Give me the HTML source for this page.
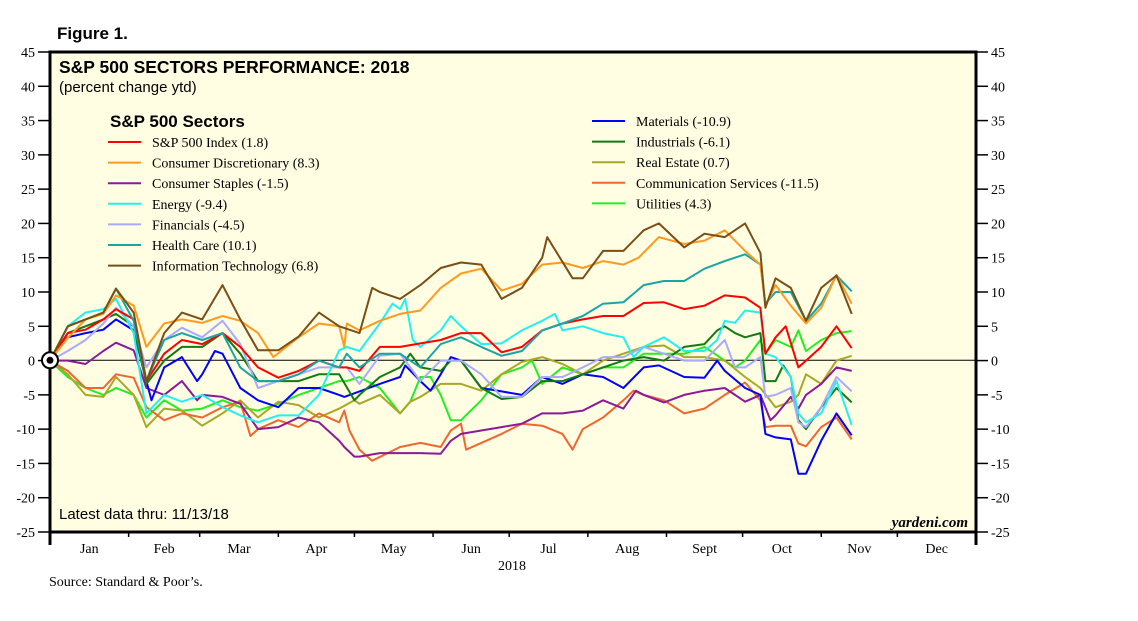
<!DOCTYPE html>
<html><head><meta charset="utf-8"><style>
html,body{margin:0;padding:0;background:#fff;width:1138px;height:621px;overflow:hidden}
svg{display:block}
.ser{font-family:"Liberation Serif",serif}
.san{font-family:"Liberation Sans",sans-serif}
</style></head><body>
<svg id="chart" width="1138" height="621" viewBox="0 0 1138 621" xmlns="http://www.w3.org/2000/svg">
<text class="san" x="57" y="39" font-size="17" font-weight="bold">Figure 1.</text>
<rect x="50" y="52" width="926" height="480" fill="#fffde2"/>
<g id="axes"></g>
<line x1="50" x2="976" y1="360.3" y2="360.3" stroke="#000" stroke-width="1"/>
<g id="series"></g>
<rect x="50" y="52" width="926" height="480" fill="none" stroke="#000" stroke-width="3"/>
<circle cx="50" cy="360.3" r="8" fill="#fff" stroke="#000" stroke-width="2"/>
<circle cx="50" cy="360.3" r="3.5" fill="#000"/>
<text class="san" x="59" y="73" font-size="17.5" font-weight="bold">S&amp;P 500 SECTORS PERFORMANCE: 2018</text>
<text class="san" x="59" y="92" font-size="15">(percent change ytd)</text>
<text class="san" x="110" y="127" font-size="17" font-weight="bold">S&amp;P 500 Sectors</text>
<g id="legend"></g>
<text class="san" x="59" y="519" font-size="15">Latest data thru: 11/13/18</text>
<text class="ser" x="968" y="527" font-size="15" font-style="italic" font-weight="bold" text-anchor="end">yardeni.com</text>
<text class="ser" x="512" y="570" font-size="14" text-anchor="middle">2018</text>
<text class="ser" x="49" y="586" font-size="14">Source: Standard &amp; Poor’s.</text>
</svg>
<script>
const yTicks=[45,40,35,30,25,20,15,10,5,0,-5,-10,-15,-20,-25];
const months=["Jan","Feb","Mar","Apr","May","Jun","Jul","Aug","Sept","Oct","Nov","Dec"];
const monthStart=[0,31,59,90,120,151,181,212,243,273,304,334,365];

const spDays=[0,7,14,21,26,33,38,45,52,60,68,75,82,90,98,106,114,117,122,130,138,146,154,162,170,178,186,194,202,210,218,226,234,242,250,258,266,274,280,282,286,290,295,298,304,310,316];
const spVals=[0,4,4.5,6,7.5,6,-3,1,3,2.4,4,2,-1,-2.5,-1.5,0,-1,-1,-1.5,2,2,2.5,3,4,4,1.2,2,4.4,5.4,6,6.5,6.5,8.4,8.5,7.5,8,9.5,9.2,7.7,1,3.4,5,-1,0,2,5,1.8];
const cdDays=[0,7,14,21,26,33,38,45,52,60,68,75,82,88,98,106,114,116,117,122,130,138,146,154,162,170,178,186,194,202,210,218,226,232,240,250,258,266,274,280,282,286,292,298,304,310,316];
const cdVals=[0,3.3,6,6.8,9.5,8,2,5.4,6,5.5,6.5,5.8,4,0.5,3.4,5.4,5,2,5.4,4.4,5.8,6.8,7.3,10.6,12.7,13.4,10.2,11.2,14,14.3,13.5,14.5,14,15,18,17,17.5,19,16,14,8,11,8,5.4,7.7,12.5,8.3];
const csDays=[0,7,14,21,26,33,38,45,52,58,60,68,75,82,90,98,106,114,116,120,122,130,138,146,154,158,162,170,178,186,194,202,210,218,226,231,234,242,250,258,266,274,280,284,286,292,295,298,304,310,316];
const csVals=[0,0,-0.5,1.4,2.6,1.5,-4,-5,-3,-5.8,-5,-5.3,-6.3,-10,-9.7,-8.3,-9,-11.7,-12.6,-14,-14,-13.5,-13.5,-13.5,-13.6,-11.7,-10.7,-10.2,-9.7,-9.2,-7.7,-7.7,-7.3,-5.8,-7,-4.4,-5,-6.1,-5,-4.4,-4,-6,-5,-8.7,-8,-5.3,-7,-5,-3.4,-1,-1.5];
const enDays=[0,7,14,21,26,33,38,45,52,60,68,75,82,90,98,106,114,117,122,130,135,138,140,143,146,154,158,162,170,178,186,194,199,202,210,218,226,230,234,242,250,258,263,266,270,274,280,282,286,292,295,298,304,310,316];
const enVals=[0,5,7,7.5,9,4,-7.7,-5,-6,-5,-6.8,-8,-9,-8,-8,-5,1.5,2,1.4,5.4,8.3,7.5,9,3,2,4.4,6.5,5,2.4,2.5,4.4,5.8,6.8,4.4,5,4,3.4,0.5,2,3.4,1.4,1.4,3,5.8,5.5,7.3,7,1,0.5,-2.4,-7.7,-9,-7.7,-3,-9.4];
const fiDays=[0,7,14,21,26,33,38,45,52,60,68,75,82,90,98,106,114,117,122,130,138,146,154,162,170,178,186,194,202,210,218,226,234,242,250,258,266,270,274,280,282,286,292,295,298,304,310,316];
const fiVals=[0,1.4,3,5.4,7.7,5,-1,3,4.8,3.4,5.8,2.4,-4,-3,-2,-1,-1,-1,-3.4,0.7,1,-3,0,0,-2,-5.3,-5.3,-2.4,-2.4,-1,0.5,0.5,2,1,0,0,3,-1,-1,0.5,-5.3,-5,-4,-9,-9.7,-6.8,-2.4,-4.5];
const hcDays=[0,7,14,21,26,33,38,45,52,60,68,75,82,90,98,106,114,117,122,130,138,146,154,162,170,178,186,194,202,210,218,226,234,242,250,258,266,274,280,282,286,292,298,304,310,316];
const hcVals=[0,5,6,7,10.5,5.8,-3,3,4,3,4,-1,-3,-3,-2,0,-1,1,-1,1,1,-1,2.4,3.4,2,0.7,1.4,4.4,5.4,6.5,8.3,8.5,11,11.6,11.6,13.4,14.5,15.5,14,8.3,10,10,5.8,8.3,12.4,10.1];
const itDays=[0,7,14,21,26,33,38,45,52,60,68,75,82,90,98,106,114,122,127,130,138,146,154,162,170,178,186,194,196,206,210,218,226,234,240,250,258,266,274,280,282,286,292,298,304,310,316];
const itVals=[0,5,6,7,10.5,7,-3,4,7,6,11,6,1.5,1.5,3.5,7,5,4,10.6,10,9,11,13.5,14.3,14,9,10.6,15,18,12,12,16,16,19,20,16.5,18.5,18,20,15.7,7.7,12,10.6,5.8,10.6,12.4,6.8];
const maDays=[0,7,14,21,26,33,38,40,45,52,58,60,65,68,75,82,90,98,106,114,116,122,130,138,140,146,150,154,158,162,166,170,178,186,194,202,210,218,226,234,240,250,258,263,266,274,280,282,286,292,295,298,304,310,316];
const maVals=[0,3.4,4,4.5,6,4.4,-3,-5.8,-1,0.5,-3,-2,1.4,1,-4,-5.8,-6.8,-4,-4,-5,-5.3,-4.5,-3.4,-2.4,-0.7,-3,-4.4,-2,0.5,0,-2,-4,-4.5,-5,-2.4,-3.4,-2,-2.4,-4,-1,-0.7,-2.4,-2.5,0,-1.5,-4,-5,-10.7,-11.2,-11.5,-16.5,-16.5,-11.7,-7.7,-10.9];
const inDays=[0,7,14,21,26,33,38,45,52,60,68,75,82,90,98,106,114,120,122,130,138,142,146,154,158,162,170,178,186,194,202,210,218,226,234,242,250,258,263,266,270,274,280,282,286,289,292,295,298,304,310,316];
const inVals=[0,4,5,6,6.8,5,-3.4,0,2,2,4,1,-3,-3,-3,-2,-2,-5.8,-5,-2.4,-1,1,-1,-1.5,0,0,-4,-5.6,-5.3,-3,-3,-2,-1,0,0.5,0,2,2.4,4.4,5,4,3.4,4,-3,-3,-0.7,-2.4,-8.7,-10,-6.8,-4,-6.1];
const reDays=[0,7,14,21,26,33,38,45,52,60,68,75,82,90,98,106,114,120,122,130,138,142,146,154,162,170,178,186,194,202,210,218,226,234,242,250,258,266,274,280,286,292,295,298,304,310,316];
const reVals=[0,-2,-5,-5.3,-2.4,-5,-9.7,-7,-7.3,-9.5,-7.7,-5.8,-8.3,-6,-6.5,-8.3,-7,-5.8,-6.3,-5,-7.7,-6,-5.3,-3.4,-3.4,-4.4,-2,-0.2,0.5,-0.5,-2,0,1,2,2.2,0.5,0.5,0,-2.4,-4,-6.8,-6,-5,-2,-3.4,0,0.7];
const coDays=[0,7,14,21,26,33,38,45,52,60,68,75,79,82,90,98,106,114,116,118,122,127,138,146,154,158,162,164,170,178,186,194,202,206,210,218,226,230,234,242,250,258,266,274,280,282,286,292,295,298,304,310,316];
const coVals=[0,-1.5,-4,-4,-2,-2.5,-6.8,-8.7,-7.7,-8.3,-6.8,-6,-11,-10,-8.7,-9.7,-7.7,-9,-7.3,-10.2,-13,-14.6,-12.6,-12,-12.6,-10.2,-9.2,-13,-12,-10.7,-9.2,-9.5,-10.7,-13,-10,-8.3,-5.8,-4.4,-5,-5.8,-7.7,-7,-5,-3.2,-5.8,-9.7,-9.5,-9.5,-12.1,-12.5,-9.7,-8.3,-11.5];
const utDays=[0,7,14,21,26,33,38,45,52,60,68,75,82,90,98,106,114,117,122,130,138,142,146,150,154,158,162,170,178,186,190,194,202,210,218,226,234,242,250,258,266,270,274,280,282,286,292,295,298,304,310,316];
const utVals=[0,-2.4,-4,-5,-4,-5,-8.3,-5.8,-7.3,-7,-5.8,-6.8,-7.3,-6.3,-5,-4,-3,-3,-2.4,-4,-7.7,-6,-2.4,-2.4,-5,-8.7,-8.7,-5.8,-2,-1,0,-3.4,-1,-2,-1,-1,1,1,1,2,0,-1,0,3,1,3,2,4.4,1.4,3,4,4.3];

const seriesNames=["S&P 500 Index (1.8)","Consumer Discretionary (8.3)","Consumer Staples (-1.5)","Energy (-9.4)","Financials (-4.5)","Health Care (10.1)","Information Technology (6.8)","Materials (-10.9)","Industrials (-6.1)","Real Estate (0.7)","Communication Services (-11.5)","Utilities (4.3)"];
const seriesDays=[spDays,cdDays,csDays,enDays,fiDays,hcDays,itDays,maDays,inDays,reDays,coDays,utDays];
const seriesVals=[spVals,cdVals,csVals,enVals,fiVals,hcVals,itVals,maVals,inVals,reVals,coVals,utVals];
const seriesColors=["#ff0000","#ff9a1f","#8a1a9a","#22f0f0","#aaaaff","#1aa5a5","#7a4e14","#0000ff","#137a13","#a8a826","#ef6630","#22ee22"];
const seriesKeys=["sp500","consumer-discretionary","consumer-staples","energy","financials","health-care","information-technology","materials","industrials","real-estate","communication-services","utilities"];

const NS="http://www.w3.org/2000/svg";
const X0=50,X1=976,Y0=52,Y1=532,VMAX=45,VMIN=-25;
function xs(d){return X0+d*(X1-X0)/365;}
function ys(v){return Y0+(VMAX-v)*(Y1-Y0)/(VMAX-VMIN);}
function mk(tag,attrs,parent){const e=document.createElementNS(NS,tag);for(const k in attrs)e.setAttribute(k,attrs[k]);parent.appendChild(e);return e;}

const axes=document.getElementById('axes');
yTicks.forEach(v=>{
  const y=ys(v);
  const tl=mk('line',{x1:38,x2:50,y1:y,y2:y,stroke:'#000','stroke-width':1.5},axes);
  
  
  const tr=mk('line',{x1:976,x2:988,y1:y,y2:y,stroke:'#000','stroke-width':1.5},axes);
  
  
  const lt=mk('text',{x:35,y:y+5,'font-size':14,'text-anchor':'end','class':'ser'},axes);
  lt.textContent=String(v);
  
  
  const rt=mk('text',{x:991,y:y+5,'font-size':14,'class':'ser'},axes);
  rt.textContent=String(v);
  
  
});
monthStart.forEach((d,i)=>{
  const big=(i===0||i===12);
  const t=mk('line',{x1:xs(d),x2:xs(d),y1:532,y2:big?545:537,stroke:'#000','stroke-width':big?3:1.5},axes);
  
  
  if(i<12){
    const lb=mk('text',{x:xs((d+monthStart[i+1])/2),y:553,'font-size':14,'text-anchor':'middle','class':'ser'},axes);
    lb.textContent=months[i];
    
    
  }
});

const sg=document.getElementById('series');
const order=[11,9,10,2,7,8,4,3,0,5,1,6];
order.forEach(i=>{
  const pts=seriesDays[i].map((d,j)=>xs(d).toFixed(1)+','+ys(seriesVals[i][j]).toFixed(1)).join(' ');
  const pl=mk('polyline',{points:pts,fill:'none',stroke:seriesColors[i],'stroke-width':2,'stroke-linejoin':'round'},sg);
  
  
});

const lg=document.getElementById('legend');
seriesNames.forEach((n,i)=>{
  const col=i<7?0:1, row=i<7?i:i-7;
  const x=col?592:108, y=col?(121+row*20.6):(142+row*20.6);
  const g=mk('g',{},lg);
  
  
  mk('line',{x1:x,x2:x+33,y1:y,y2:y,stroke:seriesColors[i],'stroke-width':2},g);
  const t=mk('text',{x:x+44,y:y+5,'font-size':14,'class':'ser'},g);
  t.textContent=n;
});
</script>
</body></html>
